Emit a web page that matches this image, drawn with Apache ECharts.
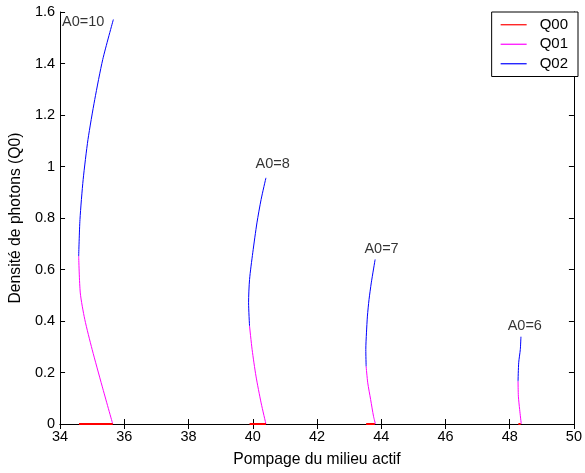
<!DOCTYPE html>
<html>
<head>
<meta charset="utf-8">
<script src="https://cdn.jsdelivr.net/npm/echarts@6/dist/echarts.min.js"></script>
<style>
  html, body { margin: 0; padding: 0; background: #fff; }
  #chart { width: 585px; height: 473px; }
</style>
</head>
<body>
<div id="chart"></div>
<script>
// Pump levels where Q0 = 0 (trivial solution), per gain value A0
var q00A10 = [[34.59, 0], [35.64, 0]];
var q00A8  = [[39.90, 0], [40.41, 0]];
var q00A7  = [[43.53, 0], [43.80, 0]];
var q00A6  = [[48.27, 0], [48.34, 0]];

// Lower branch (Q01): [pump, photon density]
var q01A10 = [[35.64, 0], [35.31, 0.147], [35.00, 0.289], [34.77, 0.406], [34.63, 0.509], [34.58, 0.652]];
var q01A8  = [[40.41, 0], [40.26, 0.082], [40.10, 0.186], [39.98, 0.289], [39.90, 0.380]];
var q01A7  = [[43.82, 0], [43.76, 0.030], [43.67, 0.095], [43.58, 0.160], [43.53, 0.224]];
var q01A6  = [[48.36, 0], [48.31, 0.056], [48.27, 0.108], [48.26, 0.166]];

// Upper branch (Q02)
var q02A10 = [[34.58, 0.652], [34.62, 0.794], [34.72, 0.950], [34.87, 1.105], [35.08, 1.260], [35.33, 1.416], [35.66, 1.571]];
var q02A8  = [[39.90, 0.380], [39.87, 0.471], [39.90, 0.561], [40.00, 0.665], [40.13, 0.781], [40.26, 0.872], [40.41, 0.956]];
var q02A7  = [[43.53, 0.224], [43.52, 0.289], [43.54, 0.354], [43.57, 0.419], [43.62, 0.483], [43.69, 0.548], [43.81, 0.639]];
var q02A6  = [[48.26, 0.166], [48.28, 0.238], [48.33, 0.289], [48.35, 0.339]];

// Curve annotations
var curveLabels = ['A0=10', 'A0=8', 'A0=7', 'A0=6'];
var curveLabelPos = [[34.72, 1.563], [40.62, 1.008], [44.01, 0.678], [48.47, 0.379]];

// Axis ranges
var xMin = 34, xMax = 50, xStep = 2;
var yMin = 0, yMax = 1.6, yStep = 0.2;

var FONT = 'Liberation Sans, Arial, sans-serif';
var colors = { Q00: '#ff0000', Q01: '#ff00ff', Q02: '#0000ff' };

function branch(name, data) {
  var flat = name === 'Q00';
  return {
    name: name,
    type: 'line',
    data: data,
    showSymbol: false,
    symbol: 'none',
    smooth: flat ? false : 0.25,
    clip: !flat,
    silent: true,
    animation: false,
    lineStyle: { color: colors[name], width: flat ? 2 : 1 },
    itemStyle: { color: colors[name] },
    z: flat ? 5 : 2
  };
}

var series = [];
[q00A10, q00A8, q00A7, q00A6].forEach(function (d) { series.push(branch('Q00', d)); });
[q01A10, q01A8, q01A7, q01A6].forEach(function (d) { series.push(branch('Q01', d)); });
[q02A10, q02A8, q02A7, q02A6].forEach(function (d) { series.push(branch('Q02', d)); });

series.push({
  type: 'scatter',
  symbolSize: 0,
  silent: true,
  animation: false,
  data: curveLabelPos.map(function (p, i) { return { value: p, name: curveLabels[i] }; }),
  label: {
    show: true,
    position: 'inside',
    formatter: '{b}',
    color: '#000',
    textBorderWidth: 0,
    fontFamily: FONT,
    fontSize: 14.5
  }
});

function frameAxis(extra) {
  var base = {
    type: 'value',
    axisLine: { show: true, lineStyle: { color: '#000', width: 1 } },
    axisTick: { show: true, inside: true, length: 5, lineStyle: { color: '#000' } },
    splitLine: { show: false },
    axisLabel: { show: false }
  };
  for (var k in extra) base[k] = extra[k];
  return base;
}

var option = {
  animation: false,
  backgroundColor: '#fff',
  grid: { left: 57, right: 8, top: 12, bottom: 48, containLabel: false },
  legend: {
    orient: 'vertical',
    right: 7,
    top: 12,
    padding: [4, 10, 4, 9],
    itemGap: 2,
    itemWidth: 26,
    itemHeight: 1.2,
    icon: 'rect',
    borderColor: '#000',
    borderWidth: 1,
    borderRadius: 0,
    backgroundColor: '#fff',
    data: ['Q00', 'Q01', 'Q02'],
    textStyle: { fontFamily: FONT, fontSize: 15, color: '#000', padding: [0, 0, 0, 8], lineHeight: 17.5 }
  },
  xAxis: [
    frameAxis({
      position: 'bottom', min: xMin, max: xMax, interval: xStep,
      name: 'Pompage du milieu actif', nameLocation: 'middle', nameGap: 28,
      nameTextStyle: { fontFamily: FONT, fontSize: 15.7, color: '#000' },
      axisLabel: { show: true, margin: 5, color: '#000', fontFamily: FONT, fontSize: 14.5 }
    }),
    frameAxis({ position: 'top', min: xMin, max: xMax, interval: xStep })
  ],
  yAxis: [
    frameAxis({
      position: 'left', min: yMin, max: yMax, interval: yStep,
      name: 'Densité de photons (Q0)', nameLocation: 'middle', nameGap: 33, nameRotate: 90,
      nameTextStyle: { fontFamily: FONT, fontSize: 15.7, color: '#000' },
      axisLabel: { show: true, margin: 5, color: '#000', fontFamily: FONT, fontSize: 14.5 }
    }),
    frameAxis({ position: 'right', min: yMin, max: yMax, interval: yStep })
  ],
  series: series
};

var chart = echarts.init(document.getElementById('chart'), null, { renderer: 'canvas' });
chart.setOption(option);
</script>
</body>
</html>
